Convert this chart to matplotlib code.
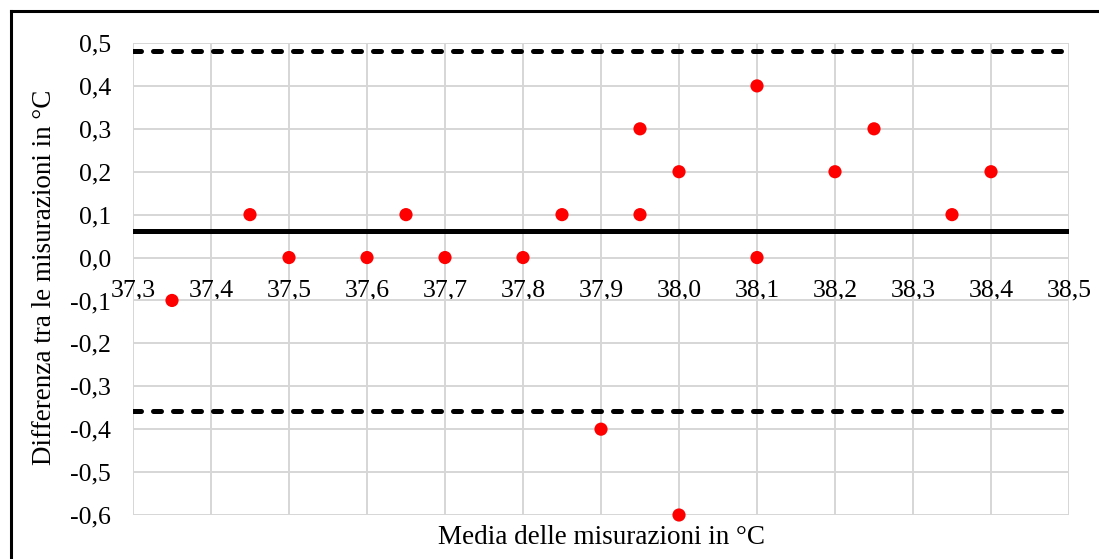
import matplotlib
matplotlib.use("Agg")
import matplotlib.pyplot as plt
import matplotlib.ticker as mticker
from matplotlib.lines import Line2D

# Bland-Altman: media vs differenza delle misurazioni
media = [37.35, 37.45, 37.5, 37.6, 37.65, 37.7, 37.8, 37.85, 37.9, 37.95,
         37.95, 38.0, 38.0, 38.1, 38.1, 38.2, 38.25, 38.35, 38.4]
differenza = [-0.1, 0.1, 0.0, 0.0, 0.1, 0.0, 0.0, 0.1, -0.4, 0.3,
              0.1, 0.2, -0.6, 0.4, 0.0, 0.2, 0.3, 0.1, 0.2]

bias = 0.063
lim_sup = 0.482
lim_inf = -0.357

x_ticks = [37.3, 37.4, 37.5, 37.6, 37.7, 37.8, 37.9, 38.0, 38.1, 38.2, 38.3, 38.4, 38.5]
y_ticks = [0.5, 0.4, 0.3, 0.2, 0.1, 0.0, -0.1, -0.2, -0.3, -0.4, -0.5, -0.6]

plt.rcParams["font.family"] = ["Liberation Serif", "DejaVu Serif"]

fig = plt.figure(figsize=(10.99, 5.59), dpi=100)
ax = fig.add_axes([133/1099, 1 - 515/559, (1069 - 133)/1099, (515 - 43)/559])

ax.set_xlim(37.3, 38.5)
ax.set_ylim(-0.6, 0.5)
ax.set_xticks(x_ticks)
ax.set_yticks(y_ticks)
fmt = mticker.FuncFormatter(lambda v, _: f"{v:.1f}".replace(".", ","))
ax.xaxis.set_major_formatter(fmt)
ax.yaxis.set_major_formatter(fmt)

for s in ax.spines.values():
    s.set_visible(False)
# asse x che incrocia in y=0
ax.spines["bottom"].set_position(("data", 0))
ax.tick_params(axis="both", length=0, labelsize=18.5)
ax.tick_params(axis="x", pad=16)
ax.tick_params(axis="y", pad=16)

ax.grid(True, color="#d6d6d6", linewidth=1.4)
ax.set_axisbelow(True)

ax.axhline(lim_sup, color="black", linewidth=3.6, linestyle=(0, (1.6, 2.4)),
           dash_capstyle="round", zorder=3)
ax.axhline(lim_inf, color="black", linewidth=3.6, linestyle=(0, (1.6, 2.4)),
           dash_capstyle="round", zorder=3)
ax.axhline(bias, color="black", linewidth=3.6, zorder=3)

ax.scatter(media, differenza, s=90, color="#ff0000", edgecolors="none",
           zorder=4, clip_on=False)

fig.text(601/1099, 1 - 538/559, "Media delle misurazioni in °C",
         ha="center", va="center", fontsize=19.5)
fig.text(45/1099, 1 - 277/559, "Differenza tra le misurazioni in °C",
         ha="center", va="center", rotation=90, fontsize=19.5)

# cornice del grafico
fig.add_artist(Line2D([11/1099, 1.0], [1 - 11/559, 1 - 11/559],
                      transform=fig.transFigure, color="black", linewidth=2.2))
fig.add_artist(Line2D([11/1099, 11/1099], [0.0, 1 - 11/559],
                      transform=fig.transFigure, color="black", linewidth=2.2))

fig.savefig("out.png", dpi=100)
